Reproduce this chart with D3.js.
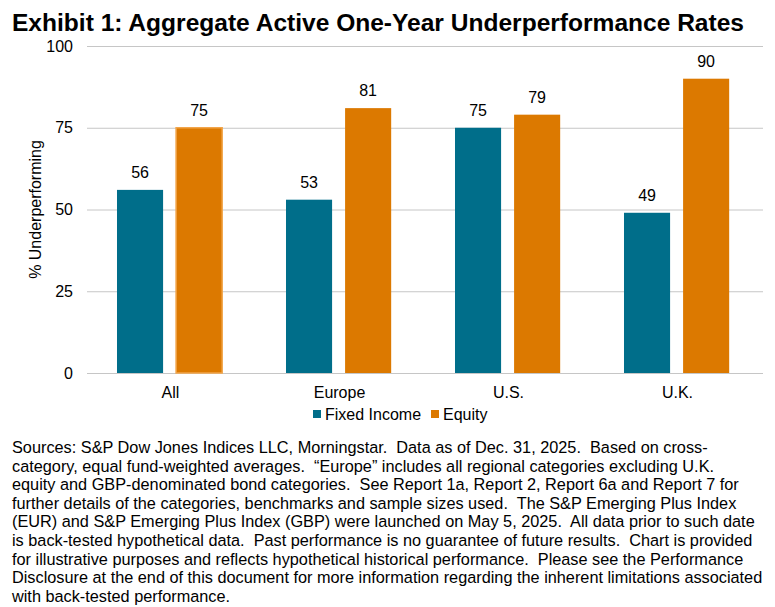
<!DOCTYPE html>
<html>
<head>
<meta charset="utf-8">
<script src="https://cdn.jsdelivr.net/npm/d3@7"></script>
<style>
  body { margin: 0; background: #fff; }
  text { font-family: Arial, "Liberation Sans", sans-serif; fill: #000; }
  .note { white-space: pre; }
</style>
</head>
<body>
<svg id="chart" width="775" height="607"></svg>
<script>
const categories = ["All", "Europe", "U.S.", "U.K."];
const seriesNames = ["Fixed Income", "Equity"];
const fixedIncome = [56, 53, 75, 49];
const equity = [75, 81, 79, 90];
const yTicks = [0, 25, 50, 75, 100];
const colors = ["#006E8A", "#DC7900"];
const footnote = [
  "Sources: S&P Dow Jones Indices LLC, Morningstar.  Data as of Dec. 31, 2025.  Based on cross-",
  "category, equal fund-weighted averages.  \u201cEurope\u201d includes all regional categories excluding U.K.",
  "equity and GBP-denominated bond categories.  See Report 1a, Report 2, Report 6a and Report 7 for",
  "further details of the categories, benchmarks and sample sizes used.  The S&P Emerging Plus Index",
  "(EUR) and S&P Emerging Plus Index (GBP) were launched on May 5, 2025.  All data prior to such date",
  "is back-tested hypothetical data.  Past performance is no guarantee of future results.  Chart is provided",
  "for illustrative purposes and reflects hypothetical historical performance.  Please see the Performance",
  "Disclosure at the end of this document for more information regarding the inherent limitations associated",
  "with back-tested performance."
];

const svg = d3.select("#chart");
const margin = { left: 87, right: 12, top: 46, bottom: 234 };
const W = 775, H = 607;

svg.append("text")
  .attr("x", 12).attr("y", 31)
  .attr("textLength", 732).attr("lengthAdjust", "spacingAndGlyphs")
  .style("font-size", "23px").style("font-weight", "bold")
  .text("Exhibit 1: Aggregate Active One-Year Underperformance Rates");

const x = d3.scaleBand().domain(categories)
  .range([margin.left, W - margin.right]);
const x1 = d3.scaleBand().domain(seriesNames)
  .range([0, x.bandwidth()]).paddingInner(0.22).paddingOuter(0.54).align(0.47);
const y = d3.scaleLinear().domain([0, 100]).range([H - margin.bottom, margin.top]);

// gridlines
svg.append("g").selectAll("line").data(yTicks).join("line")
  .attr("x1", margin.left).attr("x2", W - margin.right)
  .attr("y1", d => y(d) + 0.5).attr("y2", d => y(d) + 0.5)
  .attr("stroke", "#C6C6C6").attr("stroke-width", 1);

// y tick labels
svg.append("g").selectAll("text").data(yTicks).join("text")
  .attr("x", 73).attr("y", d => y(d)).attr("dy", "0.35em")
  .attr("text-anchor", "end").style("font-size", "16px")
  .text(d => d);

svg.append("text")
  .attr("transform", `translate(41,${(y(0) + y(100)) / 2}) rotate(-90)`)
  .attr("text-anchor", "middle").style("font-size", "16px")
  .text("% Underperforming");

const rows = categories.map((c, i) => ({ cat: c, vals: [fixedIncome[i], equity[i]] }));

const groups = svg.append("g").selectAll("g").data(rows).join("g")
  .attr("transform", d => `translate(${x(d.cat)},0)`);

groups.selectAll("rect").data((d, i) => d.vals.map((v, j) => ({ v, s: seriesNames[j], j, i })))
  .join("rect")
  .attr("x", d => x1(d.s)).attr("width", x1.bandwidth())
  .attr("y", d => y(d.v)).attr("height", d => y(0) - y(d.v))
  .attr("fill", d => colors[d.j])
  .attr("stroke", d => (d.i === 0 && d.j === 1) ? "#F2A54A" : "none")
  .attr("stroke-width", 1.5);

groups.selectAll("text").data(d => d.vals.map((v, j) => ({ v, s: seriesNames[j] })))
  .join("text")
  .attr("x", d => x1(d.s) + x1.bandwidth() / 2)
  .attr("y", d => y(d.v) - 12)
  .attr("text-anchor", "middle").style("font-size", "16px")
  .text(d => d.v);

// category labels
svg.append("g").selectAll("text").data(categories).join("text")
  .attr("x", d => x(d) + x.bandwidth() / 2 - 1).attr("y", y(0) + 25)
  .attr("text-anchor", "middle").style("font-size", "16px")
  .text(d => d);

// legend
const legend = svg.append("g").attr("transform", "translate(313,414)");
const legX = [0, 118];
seriesNames.forEach((s, j) => {
  const g = legend.append("g").attr("transform", `translate(${legX[j]},0)`);
  g.append("rect").attr("x", 0).attr("y", -4).attr("width", 8).attr("height", 8).attr("fill", colors[j]);
  g.append("text").attr("x", 12).attr("y", 0).attr("dy", "0.35em")
    .style("font-size", "16px").text(s);
});

// footnote
svg.append("g").selectAll("text").data(footnote).join("text")
  .attr("class", "note")
  .attr("x", 12).attr("y", (d, i) => 453 + i * 18.6)
  .style("font-size", "16.3px")
  .text(d => d);
</script>
</body>
</html>
